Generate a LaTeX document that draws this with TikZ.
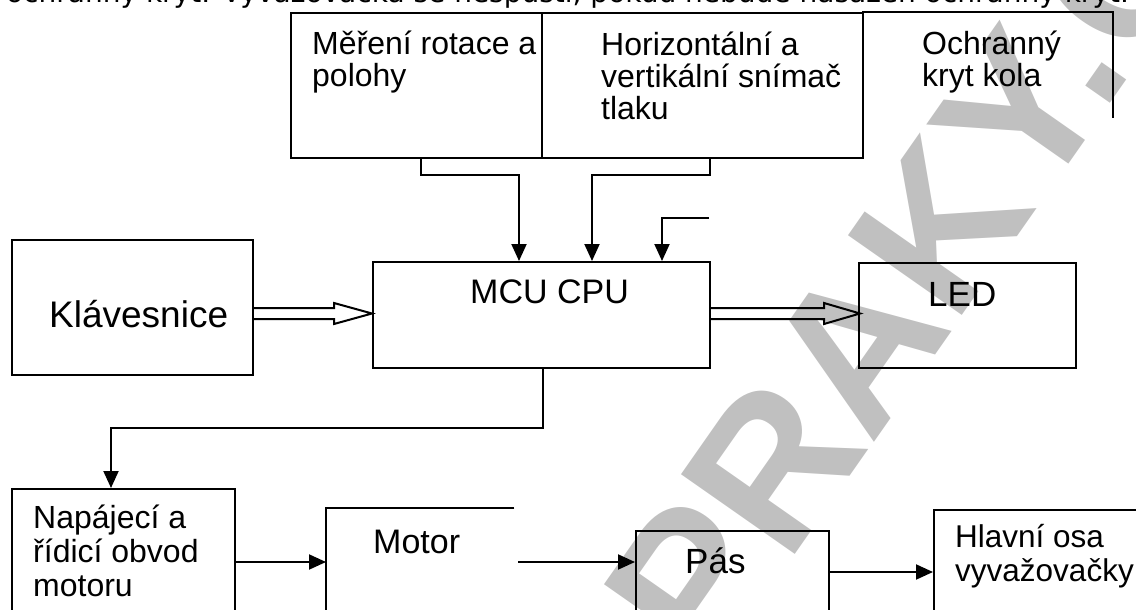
\documentclass[tikz,border=0pt]{standalone}
\usepackage{fontspec}
\setmainfont{Liberation Sans}
\newfontfamily\notefont{DejaVu Sans}
\usetikzlibrary{arrows.meta}
\definecolor{wmgray}{HTML}{C0C0C0}
\begin{document}
\begin{tikzpicture}[x=1pt,y=-1pt,
  box/.style={draw, line width=2pt, inner sep=0pt, anchor=north west},
  lbl/.style={font=\fontsize{32}{32.5}\selectfont, align=left, anchor=base west, inner sep=0pt},
  lblb/.style={font=\fontsize{32}{34}\selectfont, align=left, anchor=base west, inner sep=0pt},
  big/.style={font=\fontsize{#1}{#1}\selectfont, anchor=base west, inner sep=0pt},
  conn/.style={line width=2pt},
  arr/.style={conn, -{Triangle[length=17pt,width=15pt]}},
  hollow/.style={line width=2pt, line join=miter},
]
\useasboundingbox (0,0) rectangle (1136,610);
\clip (0,0) rectangle (1136,610);

% watermark
\node[font=\fontsize{202}{202}\selectfont\bfseries, text=wmgray, anchor=base west,
      rotate=55, inner sep=0pt] (wm) at (710,676) {PRAKY.C};

% cropped line of text at the top
\node[font=\notefont\fontsize{28}{28}\selectfont, anchor=base east, inner sep=0pt]
  (note) at (1129,2.5) {ochranný kryt. Vyvažovačka se nespustí, pokud nebude nasazen ochranný kryt.};

% top sensor boxes
\node[box, minimum width=251pt, minimum height=145pt] (rot) at (290,12) {};
\node[box, minimum width=321pt, minimum height=145pt] (tlak) at (541,12) {};
\node[inner sep=0pt, anchor=north west, minimum width=251pt, minimum height=106pt] (kryt) at (862,12) {};
\draw[conn] (kryt.north west) -- (kryt.north east) -- (kryt.south east);
\node[lbl] (trot) at (312,87) {Měření rotace a\\polohy};
\node[lbl] (ttlak) at (601,120) {Horizontální a\\vertikální snímač\\tlaku};
\node[lbl] (tkryt) at (922,87) {Ochranný\\kryt kola};

% middle row
\node[box, minimum width=241pt, minimum height=135pt] (kl) at (11,239) {};
\node[big=37] (tkl) at (49,327) {Klávesnice};
\node[box, minimum width=337pt, minimum height=106pt] (mcu) at (372,261) {};
\node[big=34] (tmcu) at (470,303) {MCU CPU};
\node[box, minimum width=217pt, minimum height=105pt] (led) at (858,262) {};
\node[big=35] (tled) at (928,306) {LED};

% inputs to MCU
\draw[arr] ([xshift=4.5pt]rot.south) -- ++(0,16) -| ([xshift=-22.5pt]mcu.north);
\draw[arr] ([xshift=7.5pt]tlak.south) -- ++(0,16) -| ([xshift=50.5pt]mcu.north);
\coordinate (cover) at (709,218);
\draw[arr] (cover) -| ([xshift=120.5pt]mcu.north);

% hollow arrows
\draw[hollow] ([yshift=-0.5pt]kl.east) -- ++(80,0) -- ++(0,-5) -- ++(38,10.5)
  -- ++(-38,10.5) -- ++(0,-5) -- ([yshift=-11.5pt]kl.east);
\draw[hollow] ([yshift=7pt]mcu.east) -- ++(113,0) -- ++(0,-5) -- ++(36,10.5)
  -- ++(-36,10.5) -- ++(0,-5) -- ([yshift=-4pt]mcu.east);

% bottom row
\node[box, minimum width=223pt, minimum height=150pt] (nap) at (11,488) {};
\node[lblb] (tnap) at (33,596) {Napájecí a\\řídicí obvod\\motoru};
\node[inner sep=0pt, anchor=north west, minimum width=192pt, minimum height=130pt] (mot) at (326,508) {};
\draw[conn] ([xshift=-4pt]mot.north east) -- (mot.north west) -- (mot.south west);
\node[big=34] (tmot) at (373,553) {Motor};
\node[box, minimum width=193pt, minimum height=120pt] (pas) at (635,530) {};
\node[big=35] (tpas) at (685,573) {Pás};
\node[box, minimum width=240pt, minimum height=140pt] (hl) at (933,509) {};
\node[lblb, font=\fontsize{31.5}{34}\selectfont] (thl) at (955,581) {Hlavní osa\\vyvažovačky};

\draw[arr] ([xshift=1.5pt]mcu.south) -- ++(0,59) -| ([xshift=-12.5pt]nap.north);
\draw[arr] (nap.east |- 0,562) -- (mot.west |- 0,562);
\draw[arr] (mot.east |- 0,562) -- (pas.west |- 0,562);
\draw[arr] (pas.east |- 0,572) -- (hl.west |- 0,572);
\end{tikzpicture}
\end{document}
